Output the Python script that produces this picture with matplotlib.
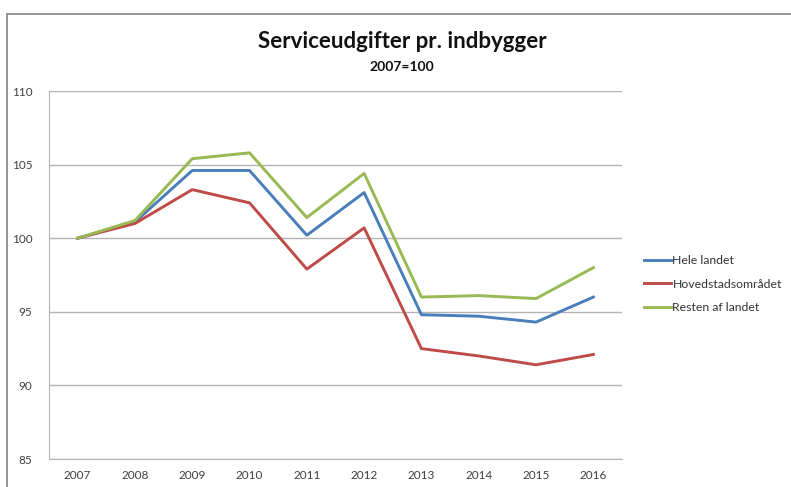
import matplotlib
matplotlib.use("Agg")
from matplotlib import pyplot as plt
from matplotlib.patches import Rectangle

years = ["2007", "2008", "2009", "2010", "2011", "2012", "2013", "2014", "2015", "2016"]
hele_landet = [100.0, 101.1, 104.6, 104.6, 100.2, 103.1, 94.8, 94.7, 94.3, 96.0]
hovedstaden = [100.0, 101.0, 103.3, 102.4, 97.9, 100.7, 92.5, 92.0, 91.4, 92.1]
resten = [100.0, 101.2, 105.4, 105.8, 101.4, 104.4, 96.0, 96.1, 95.9, 98.0]
labels = ["Hele landet", "Hovedstadsområdet", "Resten af landet"]
y_ticks = [85, 90, 95, 100, 105, 110]

plt.rcParams["font.family"] = ["Lato", "DejaVu Sans"]

fig = plt.figure(figsize=(7.91, 4.87), dpi=100)
ax = fig.add_axes([49 / 791, 28 / 487, 573 / 791, 368 / 487])

# outer chart frame (cut off at right and bottom like the original)
fig.patches.append(Rectangle((7 / 791, -0.1), 1.2, (487 - 14) / 487 + 0.1,
                             transform=fig.transFigure, fill=False,
                             edgecolor="#8c8c8c", lw=1.3))

x = range(len(years))
ax.plot(x, hele_landet, color="#4A7EBB", lw=2.1, label=labels[0])
ax.plot(x, hovedstaden, color="#BE4B48", lw=2.1, label=labels[1])
ax.plot(x, resten, color="#98B954", lw=2.1, label=labels[2])

ax.set_xlim(-0.5, len(years) - 0.5)
ax.set_ylim(85, 110)
ax.set_yticks(y_ticks)
ax.set_xticks(list(x))
ax.set_xticklabels(years)
ax.yaxis.grid(True, color="#b3b3b3", lw=1)
ax.set_axisbelow(True)
for s in ["top", "right"]:
    ax.spines[s].set_visible(False)
ax.spines["left"].set_color("#b3b3b3")
ax.spines["bottom"].set_color("#b3b3b3")
ax.tick_params(length=0, labelsize=8.5, labelcolor="#404040")
ax.tick_params(axis="y", pad=12)
ax.tick_params(axis="x", pad=8)

fig.text(402 / 791, 1 - 42 / 487, "Serviceudgifter pr. indbygger",
         ha="center", va="center", fontsize=16, fontweight="bold", color="#111111")
fig.text(402 / 791, 1 - 67 / 487, "2007=100",
         ha="center", va="center", fontsize=10, fontweight="bold", color="#111111")

ax.legend(loc="upper left", bbox_to_anchor=(634 / 791, 1 - 245 / 487),
          bbox_transform=fig.transFigure, frameon=False, fontsize=8.8,
          handlelength=2.2, handletextpad=0.15, labelspacing=1.05,
          borderpad=0.3, labelcolor="#333333")

fig.savefig("out.png", dpi=100)
